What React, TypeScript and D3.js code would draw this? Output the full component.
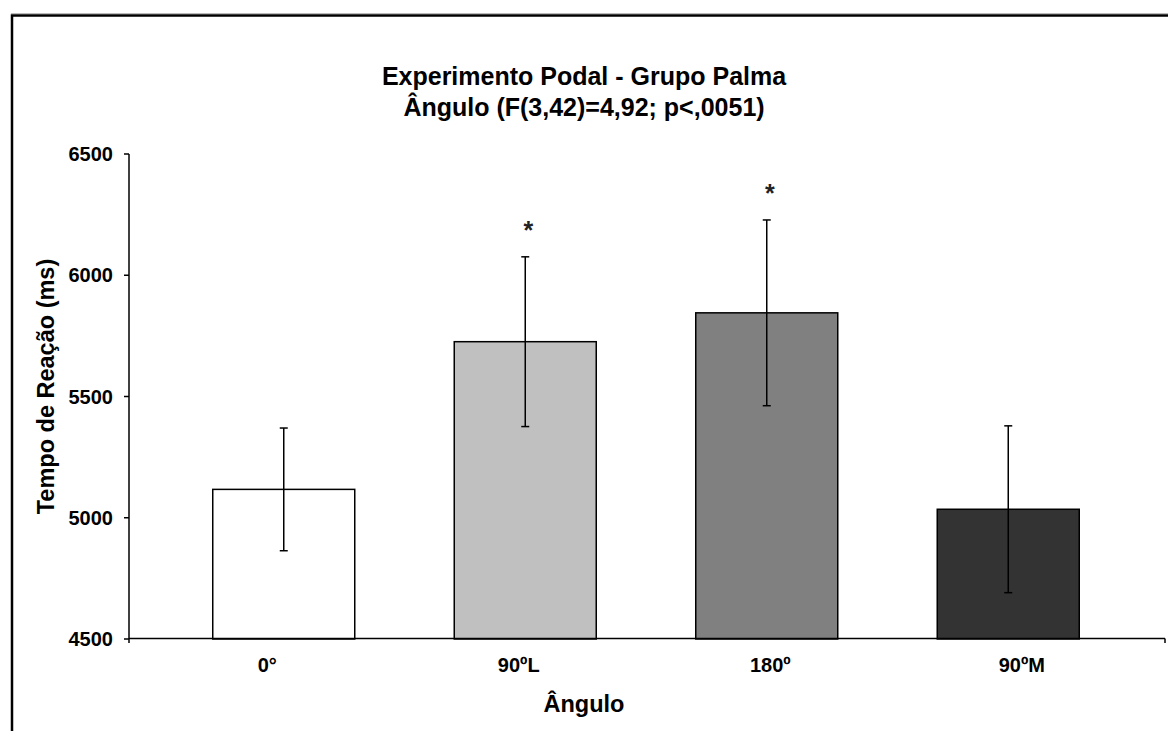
import React from "react";
import * as d3 from "d3";

const categories = ["0°", "90ºL", "180º", "90ºM"];
const means = [5117, 5726, 5845, 5035];
const errors = [253, 350, 383, 344];
const significant = [false, true, true, false];
const barColors = ["#ffffff", "#c0c0c0", "#808080", "#333333"];
const yTicks = [4500, 5000, 5500, 6000, 6500];
const titleLines = ["Experimento Podal - Grupo Palma", "Ângulo (F(3,42)=4,92; p<,0051)"];
const xTitle = "Ângulo";
const yTitle = "Tempo de Reação (ms)";

const W = 1168;
const H = 731;
const FONT = "'Liberation Sans', Arial, Helvetica, sans-serif";

export default function App() {
  const left = 129;
  const right = 1165;
  const top = 154;
  const bottom = 639;

  const y = d3.scaleLinear().domain([4500, 6500]).range([bottom, top]);
  const xBars = d3
    .scaleBand<string>()
    .domain(categories)
    .range([163, 1129])
    .paddingInner(0.412)
    .paddingOuter(0.206);
  const xLabels = d3.scaleBand<string>().domain(categories).range([141.5, 1147.5]);

  const bw = xBars.bandwidth();
  const cap = 4;

  return (
    <svg
      width={W}
      height={H}
      style={{ position: "absolute", left: 0, top: 0, background: "#fff" }}
      fontFamily={FONT}
    >
      <rect x={0} y={0} width={W} height={H} fill="#fff" />
      {/* frame */}
      <line x1={11} x2={W + 5} y1={13.5} y2={13.5} stroke="#bbb" strokeWidth={1} />
      <rect x={12} y={15.5} width={W + 20} height={H + 20} fill="none" stroke="#000" strokeWidth={2.5} />

      {/* title */}
      {titleLines.map((t, i) => (
        <text key={t} x={584} y={85 + i * 31} textAnchor="middle" fontSize={25} fontWeight="bold" fill="#000">
          {t}
        </text>
      ))}

      {/* bars */}
      {categories.map((c, i) => (
        <rect
          key={c}
          x={xBars(c)!}
          y={y(means[i])}
          width={bw}
          height={bottom - y(means[i])}
          fill={barColors[i]}
          stroke="#000"
          strokeWidth={1.5}
        />
      ))}

      {/* error bars */}
      {categories.map((c, i) => {
        const cx = xBars(c)! + bw / 2;
        const y1 = y(means[i] + errors[i]);
        const y0 = y(means[i] - errors[i]);
        return (
          <g key={"e" + c} stroke="#000" strokeWidth={1.5}>
            <line x1={cx} x2={cx} y1={y1} y2={y0} />
            <line x1={cx - cap} x2={cx + cap} y1={y1} y2={y1} />
            <line x1={cx - cap} x2={cx + cap} y1={y0} y2={y0} />
          </g>
        );
      })}

      {/* asterisks */}
      {categories.map((c, i) =>
        significant[i] ? (
          <text
            key={"s" + c}
            x={xBars(c)! + bw / 2 + 3}
            y={y(means[i] + errors[i]) - 18}
            textAnchor="middle"
            fontSize={25}
            fontWeight="bold"
            fill="#222"
          >
            *
          </text>
        ) : null
      )}

      {/* y axis */}
      <line x1={left} x2={left} y1={top} y2={bottom + 4} stroke="#000" strokeWidth={1.5} />
      {yTicks.map((t) => (
        <g key={t}>
          <line x1={left - 5} x2={left} y1={y(t)} y2={y(t)} stroke="#000" strokeWidth={1.5} />
          <text x={113} y={y(t) + 7} textAnchor="end" fontSize={20} fontWeight="bold" fill="#000">
            {t}
          </text>
        </g>
      ))}

      {/* x axis */}
      <line x1={left} x2={right} y1={bottom - 0.5} y2={bottom - 0.5} stroke="#000" strokeWidth={1.5} />
      <line x1={right} x2={right} y1={bottom - 0.5} y2={bottom + 4} stroke="#000" strokeWidth={1.5} />
      {categories.map((c) => (
        <text
          key={"l" + c}
          x={xLabels(c)! + xLabels.bandwidth() / 2}
          y={672}
          textAnchor="middle"
          fontSize={20}
          fontWeight="bold"
          fill="#000"
        >
          {c}
        </text>
      ))}

      {/* axis titles */}
      <text x={584} y={712} textAnchor="middle" fontSize={23.5} fontWeight="bold" fill="#000">
        {xTitle}
      </text>
      <text
        transform={`translate(54, ${(top + bottom) / 2 - 10}) rotate(-90)`}
        textAnchor="middle"
        fontSize={23.5}
        fontWeight="bold"
        fill="#000"
      >
        {yTitle}
      </text>
    </svg>
  );
}
